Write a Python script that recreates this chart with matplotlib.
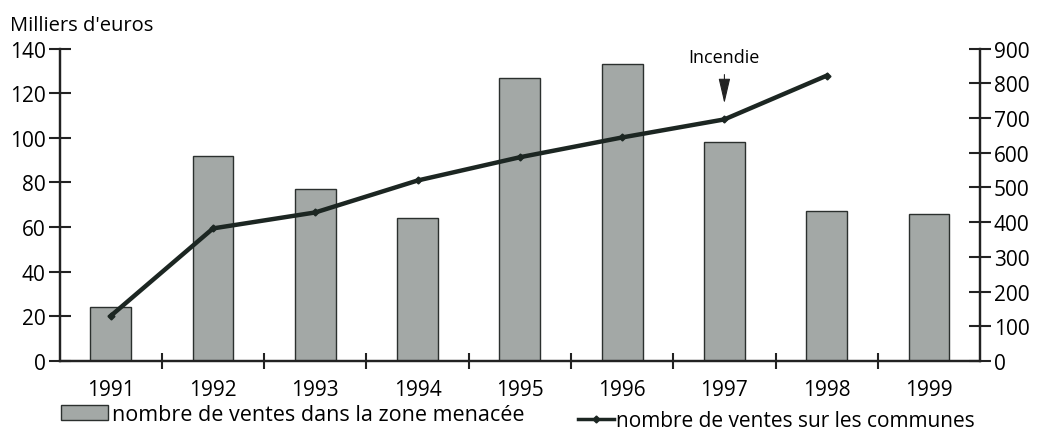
import numpy as np
import matplotlib
matplotlib.use("Agg")
import matplotlib.pyplot as plt
from matplotlib.patches import Patch
from matplotlib.lines import Line2D

# donnees
annees = ["1991", "1992", "1993", "1994", "1995", "1996", "1997", "1998", "1999"]
ventes_zone = [24, 92, 77, 64, 127, 133, 98, 67, 66]          # milliers d'euros (axe gauche)
ventes_communes = [130, 382, 428, 520, 587, 644, 696, 822]     # axe droit, pas de 1999

plt.rcParams['font.family'] = ['Open Sans', 'DejaVu Sans']
plt.rcParams['font.size'] = 15

fig = plt.figure(figsize=(10.46, 4.31), dpi=100)
ax = fig.add_axes([0.057, 0.16, 0.88, 0.725])
ax2 = ax.twinx()

x = np.arange(len(annees))
ax.bar(x, ventes_zone, width=0.4, color='#a3a8a6', edgecolor='#2b302e', linewidth=1.0, zorder=2)
ax2.plot(x[:len(ventes_communes)], ventes_communes, color='#1c2622', lw=3.2,
         marker='D', markersize=3.5, zorder=3)

ax.set_xlim(-0.5, 8.5)
ax.set_ylim(0, 140)
ax2.set_ylim(0, 900)
ax.set_yticks(np.arange(0, 141, 20))
ax2.set_yticks(np.arange(0, 901, 100))

ax.set_xticks(x)
ax.set_xticklabels(annees)
ax.tick_params(axis='x', which='major', length=0, pad=13)
ax.set_xticks(x[:-1] + 0.5, minor=True)
ax.tick_params(axis='x', which='minor', direction='inout', length=12, width=1.5, color='#222')
ax.tick_params(axis='y', direction='inout', length=16, width=1.5, color='#222', pad=2)
ax2.tick_params(axis='y', direction='inout', length=16, width=1.5, color='#222', pad=2)

for a in (ax, ax2):
    a.spines['top'].set_visible(False)
    for s in ('left', 'right', 'bottom'):
        a.spines[s].set_linewidth(1.6)
        a.spines[s].set_color('#222')
ax.patch.set_visible(False)
ax2.set_zorder(ax.get_zorder() + 1)
ax2.patch.set_visible(False)

fig.text(0.01, 0.94, "Milliers d'euros", fontsize=14.5, ha='left', va='center')

ax2.annotate("Incendie", xy=(6, 742), xytext=(6, 875), ha='center', va='center', fontsize=13,
             arrowprops=dict(arrowstyle='-|>,head_length=1.2,head_width=0.28', lw=0.8, color='#222',
                             shrinkA=4, shrinkB=0))

h1 = Patch(facecolor='#a3a8a6', edgecolor='#2b302e')
fig.legend([h1], ["nombre de ventes dans la zone menacée"], loc='center left',
           bbox_to_anchor=(0.05, 0.035), frameon=False, fontsize=15.5,
           handlelength=2.2, handleheight=0.7, handletextpad=0.15, borderaxespad=0)
h2 = Line2D([], [], color='#1c2622', lw=2.5, marker='D', markersize=3.5)
fig.legend([h2], ["nombre de ventes sur les communes"], loc='center left',
           bbox_to_anchor=(0.545, 0.022), frameon=False, fontsize=15,
           handlelength=1.7, handletextpad=0.1, borderaxespad=0)

fig.savefig("out.png", dpi=100)
